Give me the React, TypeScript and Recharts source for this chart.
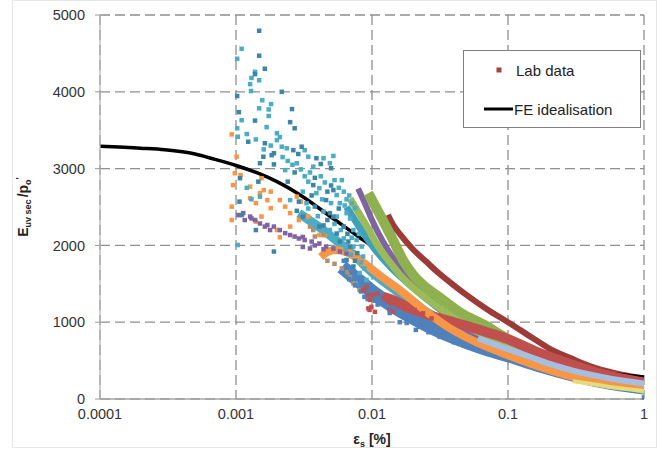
import { CartesianGrid, ComposedChart, Line, Scatter, XAxis, YAxis } from "recharts";

type Pt = { x: number; y: number };

const FONT = "'Liberation Sans', Arial, sans-serif";

const xTicks = [0.0001, 0.001, 0.01, 0.1, 1];
const xTickLabels = ["0.0001", "0.001", "0.01", "0.1", "1"];
const yTicks = [0, 1000, 2000, 3000, 4000, 5000];

// FE idealisation (secant stiffness vs shear strain)
const feStrain = [0.0001, 0.0002, 0.0003, 0.0005, 0.0007, 0.001, 0.0015, 0.002, 0.003, 0.005, 0.008, 0.01, 0.02, 0.05, 0.1, 0.2, 0.5, 1];
const feStiffness = [3290, 3265, 3245, 3190, 3120, 3040, 2930, 2830, 2650, 2370, 2110, 1990, 1500, 950, 660, 470, 345, 285];

// scattered lab readings at small strain
const tealCloud: [number, number][] = [
  [0.0011, 4560], [0.00102, 4430], [0.00138, 4260], [0.0013, 4180], [0.00148, 4150], [0.00127, 4100],
  [0.00129, 4010], [0.00156, 3890], [0.00181, 3840], [0.00148, 3785], [0.00174, 3770], [0.0011, 3630],
  [0.00174, 3685], [0.00102, 3525], [0.00168, 3540], [0.00103, 3415], [0.002, 3460], [0.0021, 3410],
  [0.002, 3370], [0.00217, 3285], [0.00236, 3265], [0.0032, 3240], [0.0034, 3155], [0.0044, 3135],
  [0.0052, 3165], [0.0028, 3070], [0.0037, 3025], [0.0049, 3070], [0.006, 2850], [0.0034, 2830],
  [0.0041, 2745], [0.0055, 2655], [0.0065, 2600], [0.0071, 2550], [0.0075, 2485], [0.0015, 2635],
  [0.0025, 2590], [0.0033, 2550], [0.0044, 2440], [0.0055, 2375], [0.0036, 2310], [0.0047, 2180],
  [0.0062, 2090], [0.0073, 1985], [0.00103, 2005], [0.0039, 2680], [0.0058, 2550], [0.0065, 2420],
  [0.0073, 2200], [0.0077, 2070], [0.0084, 1985], [0.0086, 1855], [0.0081, 1640], [0.0091, 1550],
  [0.0077, 1505], [0.0012, 3450], [0.0014, 3380], [0.0016, 3250], [0.0018, 3300], [0.0022, 3150],
  [0.0024, 3100], [0.0026, 3050], [0.0023, 2980], [0.003, 2990], [0.0032, 2900], [0.0035, 2950],
  [0.0042, 2900], [0.0045, 2820], [0.0053, 2850], [0.0057, 2750], [0.0062, 2700], [0.0068, 2650],
  [0.0031, 2700], [0.0043, 2600], [0.005, 2550], [0.0063, 2520], [0.0069, 2350], [0.008, 2150],
  [0.0034, 2480], [0.004, 2380], [0.0053, 2280], [0.0059, 2200], [0.0071, 2100], [0.0083, 1780],
  [0.0088, 1700], [0.0049, 2200], [0.0064, 1950], [0.007, 1880], [0.0012, 2750], [0.0013, 2600],
];
const darkTealCloud: [number, number][] = [
  [0.00148, 4795], [0.00148, 4470], [0.00163, 4300], [0.00138, 4230], [0.00217, 4000], [0.00102, 3945],
  [0.00258, 3775], [0.00105, 3735], [0.00138, 3625], [0.0025, 3605], [0.0027, 3525], [0.00123, 3350],
  [0.00163, 3330], [0.00264, 3240], [0.00304, 3285], [0.00287, 3190], [0.0039, 3135], [0.00159, 3155],
  [0.00183, 3175], [0.0015, 3070], [0.0019, 3055], [0.0042, 3060], [0.005, 3005], [0.00107, 2875],
  [0.00146, 2830], [0.0024, 2830], [0.0037, 2785], [0.0047, 2700], [0.0029, 2570], [0.0038, 2505],
  [0.0049, 2420], [0.0031, 2375], [0.0041, 2245], [0.0055, 2155], [0.0067, 2050], [0.00106, 2570],
  [0.0011, 2395], [0.0014, 2200], [0.0019, 1920], [0.0052, 2720], [0.0052, 2375], [0.0046, 2590],
  [0.0062, 2245], [0.0069, 1985], [0.0065, 1810], [0.0069, 1635], [0.0073, 1725], [0.0019, 3200],
  [0.0027, 2950], [0.0038, 2880], [0.005, 2780], [0.0036, 2650], [0.0057, 2480], [0.0028, 2450],
  [0.0047, 2330], [0.0066, 2150], [0.0078, 1900], [0.0044, 2260], [0.0058, 2050], [0.0075, 1800],
];
const orangeCloud: [number, number][] = [
  [0.00093, 3445], [0.00101, 3155], [0.00098, 2940], [0.00108, 2915], [0.00095, 2785], [0.00093, 2505],
  [0.00127, 2765], [0.00154, 2875], [0.0015, 2680], [0.0016, 2720], [0.0018, 2700], [0.00127, 2615],
  [0.0014, 2550], [0.0017, 2590], [0.0018, 2485], [0.0021, 2590], [0.0023, 2505], [0.0025, 2420],
  [0.00154, 2375], [0.0014, 2310], [0.00093, 2330], [0.0025, 2245], [0.0029, 2330], [0.002, 2200],
  [0.0021, 2105], [0.0034, 2375], [0.0028, 2635], [0.003, 2570], [0.0041, 2135], [0.0045, 2135],
];
const purpleCloud: [number, number][] = [
  [0.00104, 2395], [0.00113, 2420], [0.00127, 2375], [0.00138, 2330], [0.0015, 2285], [0.00163, 2245],
  [0.00178, 2200], [0.0019, 2245], [0.0021, 2200], [0.0025, 2135], [0.0027, 2115], [0.0029, 2090],
  [0.0032, 2070], [0.0036, 2050], [0.0041, 2025], [0.0046, 1985], [0.0052, 1960], [0.0058, 1920],
  [0.0065, 1895], [0.00116, 2330], [0.0013, 2350], [0.0017, 2265], [0.0023, 2160], [0.0031, 2110],
  [0.0038, 2000], [0.0044, 1950], [0.0031, 1980], [0.0035, 1960],
];
const brownCloud: [number, number][] = [
  [0.0035, 2245], [0.0037, 2200], [0.0038, 2115], [0.0044, 2135], [0.0069, 1590], [0.0073, 1505],
  [0.0081, 1420], [0.0047, 1800], [0.0053, 1760], [0.006, 1700], [0.0066, 1650],
];
const redCloud: [number, number][] = [
  [0.0094, 1355], [0.0097, 1290], [0.0099, 1200], [0.0094, 1180], [0.0105, 1135], [0.0102, 1355],
  [0.011, 1375], [0.0121, 1330], [0.0135, 1290], [0.0142, 1265], [0.016, 1245], [0.0179, 1200],
  [0.0206, 1160], [0.0237, 1115], [0.0274, 1050], [0.0135, 1160], [0.0142, 1135], [0.0086, 1420],
  [0.0091, 1460], [0.0096, 1160],
];
const blueCloud: [number, number][] = [
  [0.0062, 1800], [0.0066, 1720], [0.007, 1680], [0.0074, 1620], [0.0078, 1580], [0.0082, 1520],
  [0.0086, 1470], [0.009, 1420], [0.0095, 1380], [0.01, 1320], [0.0105, 1280], [0.011, 1230],
  [0.0068, 1560], [0.0075, 1480], [0.0083, 1400], [0.0088, 1330], [0.0093, 1300],
];
const blueEdge: [number, number][] = [
  [0.012, 1250], [0.0135, 1120], [0.016, 1000], [0.018, 990], [0.021, 900], [0.0225, 940],
  [0.026, 870], [0.0315, 810], [0.04, 740], [0.05, 680], [1, 20],
];

// dense test records (drawn as thick traces)
const blueStrain = [0.006, 0.008, 0.01, 0.014, 0.02, 0.03, 0.05, 0.07, 0.1, 0.17, 0.27, 0.5, 1];
const blueE = [1720, 1540, 1400, 1220, 1060, 900, 740, 650, 570, 440, 340, 230, 150];
const tealStrain = [0.0029, 0.004, 0.0055, 0.0075, 0.01, 0.014, 0.019, 0.027, 0.035, 0.05, 0.07, 0.1, 0.2, 0.4, 1];
const tealE = [2420, 2250, 2060, 1860, 1650, 1450, 1280, 1100, 980, 840, 740, 640, 440, 280, 160];
const cyanStrain = [0.0065, 0.008, 0.01, 0.014, 0.02, 0.03, 0.05, 0.1];
const cyanE = [2500, 2250, 2000, 1700, 1450, 1200, 940, 700];
const purpleStrain = [0.0079, 0.009, 0.01, 0.011, 0.013, 0.016, 0.02, 0.03, 0.05, 0.1, 0.2, 0.4, 1];
const purpleE = [2740, 2520, 2330, 2180, 1950, 1720, 1500, 1200, 900, 640, 440, 290, 170];
const greenStrain = [0.0094, 0.0105, 0.012, 0.014, 0.017, 0.02, 0.025, 0.0315, 0.045, 0.066, 0.1, 0.2, 0.4, 1];
const greenE = [2680, 2520, 2330, 2100, 1800, 1620, 1450, 1320, 1120, 970, 780, 520, 330, 130];
const lightGreenStrain = [0.0069, 0.008, 0.0095, 0.0108, 0.013, 0.016, 0.02, 0.028, 0.04, 0.05, 0.07, 0.1, 0.2, 0.4, 1];
const lightGreenE = [2610, 2420, 2200, 2020, 1820, 1620, 1450, 1250, 1050, 940, 820, 700, 480, 300, 110];
const redStrain = [0.012, 0.015, 0.018, 0.024, 0.03, 0.04, 0.05, 0.07, 0.1, 0.17, 0.27, 0.5, 1];
const redE = [1330, 1270, 1200, 1120, 1060, 1000, 950, 870, 780, 600, 470, 320, 215];
const orangeStrain = [0.0042, 0.0048, 0.0055, 0.0065, 0.008, 0.0092, 0.012, 0.016, 0.025, 0.0375, 0.06, 0.1, 0.17, 0.27, 0.5, 1];
const orangeE = [1850, 1920, 1940, 1910, 1820, 1740, 1580, 1420, 1140, 920, 730, 570, 420, 310, 200, 140];
const lightBlueStrain = [0.06, 0.08, 0.1, 0.15, 0.2, 0.3, 0.5, 1];
const lightBlueE = [790, 710, 650, 540, 460, 370, 285, 200];
const darkRedStrain = [0.0131, 0.0145, 0.016, 0.02, 0.025, 0.03, 0.04, 0.05, 0.07, 0.1, 0.15, 0.2, 0.3, 0.4, 0.6, 1];
const darkRedE = [2400, 2250, 2150, 1950, 1790, 1660, 1480, 1350, 1170, 1000, 800, 660, 520, 430, 340, 268];
const yellowStrain = [0.3, 0.45, 0.6, 1];
const yellowE = [230, 185, 150, 105];

const zip = (xs: number[], ys: number[]): Pt[] => xs.map((x, i) => ({ x, y: ys[i] }));
const toPts = (pairs: [number, number][]): Pt[] => pairs.map(([x, y]) => ({ x, y }));

const clouds = [
  { id: "orange", color: "#F79646", data: toPts(orangeCloud) },
  { id: "purple", color: "#8064A2", data: toPts(purpleCloud) },
  { id: "teal", color: "#4BACC6", data: toPts(tealCloud) },
  { id: "darkTeal", color: "#3B86A8", data: toPts(darkTealCloud) },
  { id: "brown", color: "#B0906E", data: toPts(brownCloud) },
  { id: "blue", color: "#4F81BD", data: toPts(blueCloud) },
  { id: "red", color: "#C0504D", data: toPts(redCloud) },
];

const bands = [
  { id: "blue", color: "#4F81BD", width: 14, data: zip(blueStrain, blueE) },
  { id: "teal", color: "#4BACC6", width: 9, data: zip(tealStrain, tealE) },
  { id: "cyan", color: "#3FA0BE", width: 7, data: zip(cyanStrain, cyanE) },
  { id: "purple", color: "#8064A2", width: 6, data: zip(purpleStrain, purpleE) },
  { id: "green", color: "#8EB04E", width: 10, data: zip(greenStrain, greenE) },
  { id: "lightGreen", color: "#9BBB59", width: 7, data: zip(lightGreenStrain, lightGreenE) },
  { id: "red", color: "#C0504D", width: 10, data: zip(redStrain, redE) },
  { id: "orange", color: "#F79646", width: 8, data: zip(orangeStrain, orangeE) },
  { id: "lightBlue", color: "#A6BFE0", width: 6, data: zip(lightBlueStrain, lightBlueE) },
  { id: "yellow", color: "#E2DC7A", width: 4, data: zip(yellowStrain, yellowE) },
];

const square = (color: string) => (props: any) =>
  <rect x={props.cx - 2.25} y={props.cy - 2.25} width={4.5} height={4.5} fill={color} />;

const YTitle = () => (
  <text x={28} y={207} transform="rotate(-90 28 207)" textAnchor="middle" fontFamily={FONT} fontWeight="bold" fontSize={14} fill="#222">
    E<tspan fontSize={9} dy={3}>uv sec</tspan>
    <tspan dy={-3} dx={2}>/p</tspan>
    <tspan fontSize={9} dy={3}>o</tspan>
    <tspan fontSize={9} dy={-9}>'</tspan>
  </text>
);

const XTitle = () => (
  <text x={372} y={444} textAnchor="middle" fontFamily={FONT} fontWeight="bold" fontSize={14} fill="#222">
    ε<tspan fontSize={9} dy={3}>s</tspan>
    <tspan dy={-3}>{"  [%]"}</tspan>
  </text>
);

export default function App() {
  return (
    <div style={{ position: "absolute", left: 0, top: 0, width: 657, height: 453, background: "#fff" }}>
      <ComposedChart width={657} height={453} margin={{ top: 15, right: 13, bottom: 0, left: 0 }}>
        <rect x={12.5} y={0.5} width={644} height={447} fill="none" stroke="#e6e6e6" />
        <CartesianGrid stroke="#8f8f8f" strokeWidth={1.3} strokeDasharray="10 5" />
        <XAxis
          dataKey="x"
          type="number"
          scale="log"
          domain={[0.0001, 1]}
          allowDataOverflow
          ticks={xTicks}
          tickFormatter={(v: number) => xTickLabels[xTicks.indexOf(v)] ?? String(v)}
          height={54}
          tickSize={0}
          tickMargin={10}
          axisLine={{ stroke: "#a6a6a6", strokeWidth: 1.3 }}
          tick={{ fontSize: 14.5, fontFamily: FONT, fill: "#333" }}
          label={{ content: () => <XTitle /> }}
        />
        <YAxis
          dataKey="y"
          type="number"
          domain={[0, 5000]}
          ticks={yTicks}
          width={100}
          tickSize={5}
          tickMargin={10}
          axisLine={{ stroke: "#b5b5b5", strokeWidth: 1.3 }}
          tickLine={{ stroke: "#999" }}
          tick={{ fontSize: 14.5, fontFamily: FONT, fill: "#333" }}
          label={{ content: () => <YTitle /> }}
        />
        {clouds.map((c) => (
          <Scatter key={c.id} data={c.data} dataKey="y" fill={c.color} shape={square(c.color)} isAnimationActive={false} />
        ))}
        <Line data={zip(darkRedStrain, darkRedE)} dataKey="y" type="monotone" stroke="#9C3B38" strokeWidth={6} dot={false} isAnimationActive={false} />
        <Line data={zip(feStrain, feStiffness)} dataKey="y" type="monotone" stroke="#000" strokeWidth={3.5} dot={false} isAnimationActive={false} />
        {bands.slice(0, 1).map((b) => (
          <Line key={b.id} data={b.data} dataKey="y" type="monotone" stroke={b.color} strokeWidth={b.width} dot={false} isAnimationActive={false} />
        ))}
        <Scatter data={toPts(blueEdge)} dataKey="y" fill="#4F81BD" shape={square("#4F81BD")} isAnimationActive={false} />
        {bands.slice(1).map((b) => (
          <Line key={b.id} data={b.data} dataKey="y" type="monotone" stroke={b.color} strokeWidth={b.width} dot={false} isAnimationActive={false} />
        ))}
      </ComposedChart>
      <svg width={657} height={453} style={{ position: "absolute", left: 0, top: 0, pointerEvents: "none" }}>
        <rect x={463.5} y={50.5} width={177} height={77} fill="#fff" stroke="#808080" />
        <rect x={496.5} y={67.5} width={5} height={5} fill="#A0453F" />
        <text x={516} y={75.5} fontFamily={FONT} fontSize={15} fill="#222">Lab data</text>
        <line x1={484} x2={513} y1={109} y2={109} stroke="#000" strokeWidth={3} />
        <text x={514} y={114.5} fontFamily={FONT} fontSize={15} fill="#222">FE idealisation</text>
      </svg>
    </div>
  );
}
